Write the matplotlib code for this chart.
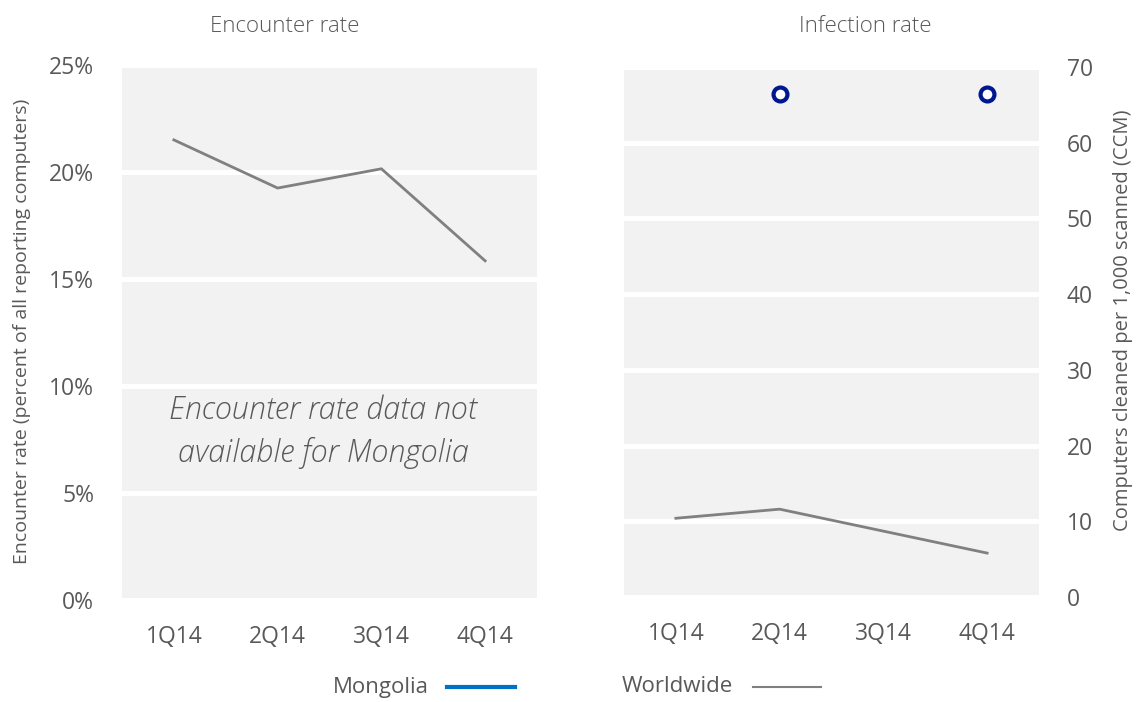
import matplotlib.pyplot as plt
from matplotlib.lines import Line2D

# data
quarters = ["1Q14", "2Q14", "3Q14", "4Q14"]
encounter_worldwide = [21.5, 19.25, 20.15, 15.85]
infection_worldwide = [10.4, 11.6, 8.7, 5.8]
infection_mongolia = [None, 66.4, None, 66.4]

TEXT = "#595959"
BG = "#f2f2f2"
GRAY_LINE = "#808080"
NAVY = "#00188f"
BLUE = "#0072c6"

plt.rcParams["font.family"] = ["Open Sans", "DejaVu Sans"]

fig = plt.figure(figsize=(11.4, 7.02), dpi=100)
W, H = 1140, 702
ax1 = fig.add_axes([122 / W, 1 - 600 / H, 415 / W, 535 / H])
ax2 = fig.add_axes([624 / W, 1 - 597 / H, 415 / W, 530 / H])

x = list(range(len(quarters)))
for ax in (ax1, ax2):
    ax.set_facecolor(BG)
    for s in ax.spines.values():
        s.set_visible(False)
    ax.tick_params(length=0, labelsize=16.5, labelcolor=TEXT, pad=20)
    ax.tick_params(axis="x", pad=18)
    ax.grid(axis="y", color="white", linewidth=3.6)
    ax.set_axisbelow(True)
    ax.set_xlim(-0.5, 3.5)
    ax.set_xticks(x)
    ax.set_xticklabels(quarters)

# left: encounter rate
ax1.plot(x, encounter_worldwide, color=GRAY_LINE, linewidth=2)
ax1.set_ylim(0, 25)
ax1.set_yticks([0, 5, 10, 15, 20, 25])
ax1.set_yticklabels([f"{v}%" for v in [0, 5, 10, 15, 20, 25]])
ax1.text(1.44, 7.85, "Encounter rate data not\navailable for Mongolia",
         ha="center", va="center", fontsize=22, style="italic",
         fontweight="light", color=TEXT, linespacing=1.45)

# right: infection rate
ax2.plot(x, infection_worldwide, color=GRAY_LINE, linewidth=2)
mx = [i for i, v in enumerate(infection_mongolia) if v is not None]
my = [v for v in infection_mongolia if v is not None]
ax2.plot(mx, my, linestyle="none", marker="o", markersize=10,
         markerfacecolor="white", markeredgecolor=NAVY, markeredgewidth=3)
ax2.set_ylim(0, 70)
ax2.set_yticks(range(0, 71, 10))
ax2.yaxis.tick_right()

# axis titles and labels placed in figure pixels
fig.text(285 / W, 1 - 27 / H, "Encounter rate", ha="center", va="center",
         fontsize=16, color=TEXT, fontweight="light")
fig.text(865 / W, 1 - 27 / H, "Infection rate", ha="center", va="center",
         fontsize=16, color=TEXT, fontweight="light")
fig.text(22 / W, 1 - 331 / H,
         "Encounter rate (percent of all reporting computers)",
         rotation=90, ha="center", va="center", fontsize=14, color=TEXT)
fig.text(1123 / W, 1 - 320 / H, "Computers cleaned per 1,000 scanned (CCM)",
         rotation=90, ha="center", va="center", fontsize=14.5, color=TEXT)

# legend drawn by hand
ly = 1 - 687 / H
fig.text(333 / W, ly, "Mongolia", ha="left", va="center", fontsize=16,
         color=TEXT)
fig.add_artist(Line2D([447 / W, 515 / W], [ly, ly], color=BLUE,
                      linewidth=3, transform=fig.transFigure))
fig.text(622 / W, ly, "Worldwide", ha="left", va="center", fontsize=16,
         color=TEXT)
fig.add_artist(Line2D([753 / W, 821 / W], [ly, ly], color=GRAY_LINE,
                      linewidth=1.5, transform=fig.transFigure))

fig.savefig("out.png", dpi=100)
